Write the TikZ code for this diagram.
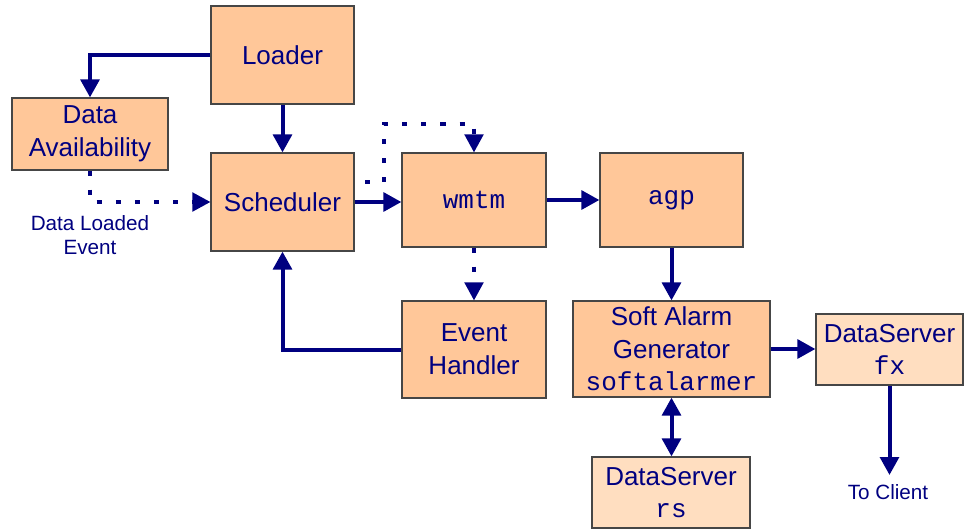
\documentclass[tikz,border=0pt]{standalone}
\usepackage{fontspec}
\setmainfont{Liberation Sans}
\newfontfamily\monofont{Liberation Mono}
\usetikzlibrary{arrows.meta,calc}
\definecolor{boxfill}{RGB}{255,199,153}
\definecolor{lightfill}{RGB}{255,222,192}
\definecolor{boxline}{RGB}{70,70,70}
\definecolor{navy}{RGB}{0,0,128}
\tikzset{
  box/.style={draw=boxline, line width=0.9pt, fill=boxfill, text=navy, align=center, inner sep=0pt,
    font=\fontsize{19.5}{24.5}\selectfont},
  lbox/.style={box, fill=lightfill},
  lbl/.style={text=navy, align=center, inner sep=0pt, font=\fontsize{15.5}{18.5}\selectfont},
  arr/.style={draw=navy, line width=3pt, -{Triangle[width=14pt,length=13.5pt]}},
  arrboth/.style={draw=navy, line width=3pt, {Triangle[width=14pt,length=13.5pt]}-{Triangle[width=14pt,length=13.5pt]}},
  dotarr/.style={draw=navy, line width=2.3pt, dash pattern=on 3.8pt off 10.5pt, -{Triangle[width=14pt,length=13.5pt]}},
}
\begin{document}
\begin{tikzpicture}[x=0.75pt,y=-0.75pt]
\useasboundingbox (0,0) rectangle (964,529);
\node[box, minimum width=107.25pt, minimum height=73.5pt] (L) at (282.5,55) {Loader};
\node[box, minimum width=117pt, minimum height=54pt] (DA) at (90,134) {Data\\Availability};
\node[box, minimum width=107.25pt, minimum height=73.5pt] (S) at (282.5,202) {Scheduler};
\node[box, minimum width=108pt, minimum height=70.5pt] (W) at (474,200) {\monofont wmtm};
\node[box, minimum width=107.25pt, minimum height=70.5pt] (A) at (671.5,200) {\monofont agp};
\node[box, minimum width=108pt, minimum height=72.75pt] (EH) at (474,349.5) {Event\\Handler};
\node[box, minimum width=147.75pt, minimum height=72pt] (SAG) at (671.5,349) {Soft Alarm\\Generator\\{\monofont softalarmer}};
\node[lbox, minimum width=110.25pt, minimum height=53.25pt] (F) at (889.5,349.5) {DataServer\\{\monofont fx}};
\node[lbox, minimum width=118.5pt, minimum height=53.25pt] (R) at (671,492.5) {DataServer\\{\monofont rs}};
\node[lbl] (DLE) at (90,235) {Data Loaded\\Event};
\node[lbl] (TC) at (888,492) {To Client};
\coordinate (d1) at (365,182);
\coordinate (tcend) at (889.5,475);

\draw[arr] (L.west) -| (DA.north);
\draw[arr] (L.south) -- (S.north);
\draw[dotarr] (DA.south) |- (S.west);
\draw[arr] (S.east) -- (S.east -| W.west);
\draw[dotarr] (d1) -| (384,124) -| (W.north);
\draw[dotarr] (W.south) -- (EH.north);
\draw[arr] (EH.west) -| (S.south);
\draw[arr] (W.east) -- (A.west);
\draw[arr] (A.south) -- (SAG.south |- SAG.north);
\draw[arr] (SAG.east) -- (SAG.east -| F.west);
\draw[arrboth] (SAG.south) -- (SAG.south |- R.north);
\draw[arr] (F.south) -- (tcend);
\end{tikzpicture}
\end{document}
